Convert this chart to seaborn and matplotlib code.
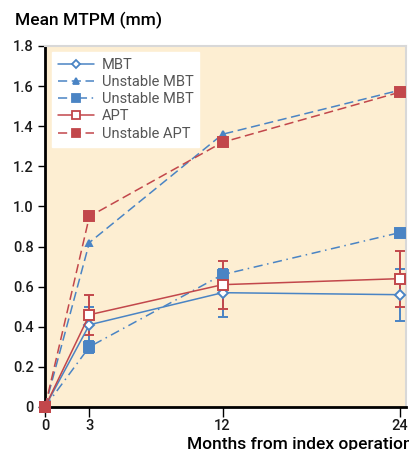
import matplotlib
matplotlib.use("Agg")
import matplotlib.pyplot as plt
import seaborn as sns
import pandas as pd

months = [0, 3, 12, 24]
mbt = [0.0, 0.41, 0.57, 0.56]
mbt_err = [0.0, 0.09, 0.12, 0.13]
unstable_mbt_tri = [0.0, 0.82, 1.36, 1.58]
unstable_mbt_sq = [0.0, 0.30, 0.66, 0.87]
unstable_mbt_sq_err = [0.0, 0.03, 0.0, 0.0]
apt = [0.0, 0.46, 0.61, 0.64]
apt_err = [0.0, 0.10, 0.12, 0.14]
unstable_apt = [0.0, 0.95, 1.32, 1.57]
y_ticks = [0, 0.2, 0.4, 0.6, 0.8, 1.0, 1.2, 1.4, 1.6, 1.8]
y_tick_labels = ["0", "0.2", "0.4", "0.6", "0.8", "1.0", "1.2", "1.4", "1.6", "1.8"]

BLUE = "#4a84c4"
RED = "#c2474b"

sns.set_style("white")
plt.rcParams["font.family"] = ["Roboto", "Liberation Sans", "DejaVu Sans"]

fig = plt.figure(figsize=(4.09, 4.5), dpi=100)
ax = fig.add_axes([45 / 409, 43 / 450, 361 / 409, 361 / 450])
ax.set_facecolor("#fdeed2")

series = [
    ("MBT", mbt, BLUE, "-", "D", "white", 5, mbt_err),
    ("Unstable MBT", unstable_mbt_tri, BLUE, (0, (6, 3)), "^", BLUE, 5, None),
    ("Unstable MBT ", unstable_mbt_sq, BLUE, (0, (6, 3, 1, 3)), "s", BLUE, 7, unstable_mbt_sq_err),
    ("APT", apt, RED, "-", "s", "white", 7, apt_err),
    ("Unstable APT", unstable_apt, RED, (0, (6, 3)), "s", RED, 7, None),
]

handles = []
for name, vals, col, ls, mk, mfc, ms, err in series:
    df = pd.DataFrame({"month": months, "value": vals})
    if err is not None:
        ax.errorbar(months[1:], vals[1:], yerr=err[1:], fmt="none", ecolor=col,
                    elinewidth=1.4, capsize=3.5, capthick=1.4, zorder=2)
    sns.lineplot(data=df, x="month", y="value", ax=ax, color=col, linewidth=1.1,
                 marker=mk, markersize=ms, markerfacecolor=mfc, markeredgecolor=col,
                 markeredgewidth=1.4, legend=False, zorder=3)
    line = ax.lines[-1]
    line.set_linestyle(ls)
    line.set_clip_on(False)
    handles.append(plt.Line2D([], [], color=col, linestyle=ls, linewidth=1.1, marker=mk,
                              markersize=ms - 1, markerfacecolor=mfc, markeredgecolor=col,
                              markeredgewidth=1.3, label=name.strip()))

ax.set_xlim(0, 24.4)
ax.set_ylim(0, 1.8)
ax.set_xticks(months)
ax.set_xticklabels([str(m) for m in months])
ax.set_yticks(y_ticks)
ax.set_yticklabels(y_tick_labels)
ax.set_xlabel("")
ax.set_ylabel("")
ax.tick_params(axis="y", which="major", direction="out", length=5, width=1.0,
               labelsize=10.5, colors="black", left=True, pad=3)
ax.tick_params(axis="x", which="major", direction="out", length=7, width=1.0,
               labelsize=10.5, colors="black", bottom=True, pad=2)
for lab in ax.get_xticklabels() + ax.get_yticklabels():
    lab.set_fontweight("medium")
    lab.set_color("#1a1a1a")

for side in ["left", "bottom"]:
    ax.spines[side].set_color("black")
    ax.spines[side].set_linewidth(2.0)
for side in ["top", "right"]:
    ax.spines[side].set_color("#d8d8d8")
    ax.spines[side].set_linewidth(1.5)

leg = ax.legend(handles=handles, loc="upper left", bbox_to_anchor=(7 / 361, 1 - 6 / 361),
                borderaxespad=0, frameon=True, fancybox=False, fontsize=10.5,
                handlelength=2.5, handletextpad=0.5, labelspacing=0.22, borderpad=0.4,
                labelcolor="#555555")
leg.get_frame().set_facecolor("white")
leg.get_frame().set_edgecolor("white")
leg.get_frame().set_alpha(1)

fig.text(15 / 409, 1 - 20 / 450, "Mean MTPM (mm)", fontsize=12.5, fontweight="medium",
         ha="left", va="center", color="black")
fig.text(187 / 409, 1 - 444 / 450, "Months from index operation", fontsize=12.5,
         fontweight="medium", ha="left", va="center", color="black")

fig.savefig("out.png", dpi=100)
